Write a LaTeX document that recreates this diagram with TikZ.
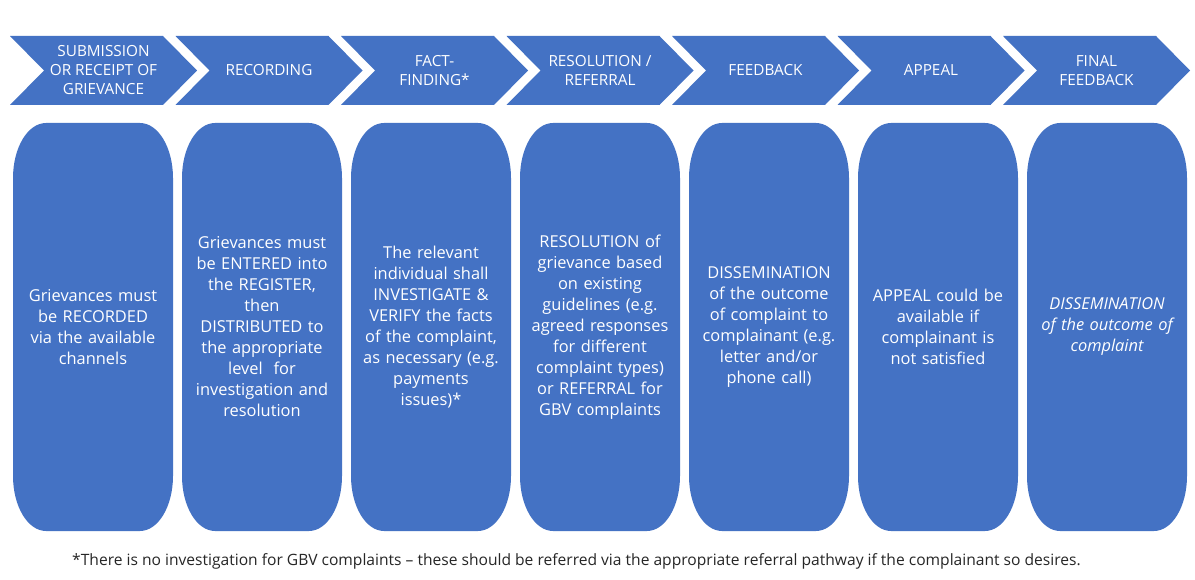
\documentclass[tikz,border=0pt]{standalone}
\usepackage{fontspec}
\setmainfont{Open Sans}
\newfontfamily\headfont{Open Sans}
\definecolor{stepblue}{HTML}{4472C4}
\begin{document}
\begin{tikzpicture}[x=1pt,y=-1pt,
  chev/.style={fill=stepblue},
  chevtext/.style={text=white,font=\headfont\fontsize{15.3}{19}\selectfont,align=center},
  stagebox/.style={fill=stepblue},
  boxtext/.style={text=white,font=\fontsize{16.4}{21}\selectfont,align=center,text width=158pt},
  notetext/.style={text=black!85,font=\fontsize{15.6}{18}\selectfont,anchor=west,inner sep=0pt}]
\useasboundingbox (0,0) rectangle (1195,580);
\fill[white] (0,0) rectangle (1195,580);
% process chevrons
\foreach \i/\txt in {0/{SUBMISSION\\OR RECEIPT OF\\GRIEVANCE},1/{RECORDING},2/{FACT-\\FINDING*},3/{RESOLUTION /\\REFERRAL},4/{FEEDBACK},5/{APPEAL},6/{FINAL\\FEEDBACK}}{
  \pgfmathsetmacro\s{10+165.5*\i}
  \fill[chev] (\s,36) -- ++(153,0) -- ++(34,34.5) -- ++(-34,34.5) -- ++(-153,0) -- ++(34,-34.5) -- cycle;
  \node[chevtext] (c\i) at (\s+93.5,70.5) {\txt};
}
% stage description boxes
\foreach \j/\txt in {
  0/{Grievances must\\be RECORDED\\via the available\\channels},
  1/{Grievances must\\be ENTERED into\\the REGISTER,\\then\\DISTRIBUTED to\\the appropriate\\level~ for\\investigation and\\resolution},
  2/{The relevant\\individual shall\\INVESTIGATE \&\\VERIFY the facts\\of the complaint,\\as necessary (e.g.\\payments\\issues)*},
  3/{RESOLUTION of\\grievance based\\on existing\\guidelines (e.g.\\agreed responses\\for different\\complaint types)\\or REFERRAL for\\GBV complaints},
  4/{DISSEMINATION\\of the outcome\\of complaint to\\complainant (e.g.\\letter and/or\\phone call)},
  5/{APPEAL could be\\available if\\complainant is\\not satisfied},
  6/{\itshape DISSEMINATION\\\itshape of the outcome of\\\itshape complaint}}{
  \pgfmathsetmacro\b{13+169*\j}
  \fill[stagebox] (\b,178) .. controls (\b,147.6) and (\b+14.8,123) .. (\b+33,123)
    -- (\b+127,123) .. controls (\b+145.2,123) and (\b+160,147.6) .. (\b+160,178)
    -- (\b+160,476) .. controls (\b+160,506.4) and (\b+145.2,531) .. (\b+127,531)
    -- (\b+33,531) .. controls (\b+14.8,531) and (\b,506.4) .. (\b,476) -- cycle;
  \node[boxtext] (t\j) at (\b+80,327) {\txt};
}
% footnote
\node[notetext] (note) at (72,561) {*There is no investigation for GBV complaints -- these should be referred via the appropriate referral pathway if the complainant so desires.};
\end{tikzpicture}
\end{document}
